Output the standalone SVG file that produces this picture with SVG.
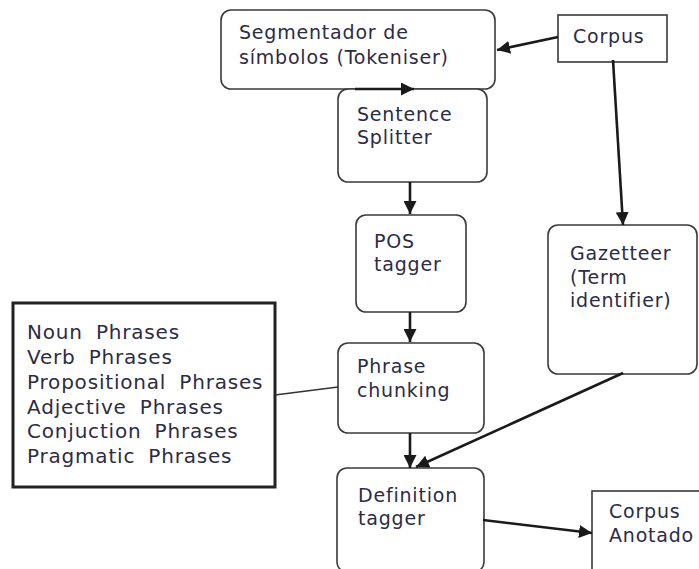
<svg xmlns="http://www.w3.org/2000/svg" width="699" height="569" viewBox="0 0 699 569">
<style>
.box{fill:#fff;stroke:#3a3a3a;stroke-width:1.6}
.t{font-family:"DejaVu Sans",Verdana,sans-serif;font-size:19px;letter-spacing:0.8px;fill:#2c2c44}
.lt{font-family:"DejaVu Sans",Verdana,sans-serif;font-size:20px;letter-spacing:0.8px;word-spacing:6px;fill:#2c2c44}
.c{stroke:#1a1a1a;stroke-width:2.6;fill:none}
.thin{stroke:#333;stroke-width:1.3;fill:none}
</style>
<defs>
<marker id="ah" viewBox="0 0 10 10" refX="10" refY="5" markerWidth="5" markerHeight="5" orient="auto" markerUnits="strokeWidth">
<path d="M0,0 L10,5 L0,10 z" fill="#1a1a1a"/>
</marker>
</defs>
<rect width="699" height="569" fill="#fff"/>
<g id="tokeniser">
<rect class="box" x="221" y="10" width="274" height="79" rx="10"/>
<text class="t" x="239" y="39">Segmentador de</text>
<text class="t" x="239" y="64">símbolos (Tokeniser)</text>
</g>
<g id="corpus">
<rect class="box" x="558" y="15" width="109" height="47"/>
<text class="t" x="573" y="43">Corpus</text>
</g>
<g id="splitter">
<rect class="box" x="338" y="89" width="149" height="93" rx="10"/>
<text class="t" x="357" y="121">Sentence</text>
<text class="t" x="357" y="144">Splitter</text>
</g>
<g id="pos">
<rect class="box" x="356" y="215" width="110" height="97" rx="10"/>
<text class="t" x="374" y="248">POS</text>
<text class="t" x="374" y="271">tagger</text>
</g>
<g id="gazetteer">
<rect class="box" x="548" y="225" width="149" height="149" rx="10"/>
<text class="t" x="570" y="260">Gazetteer</text>
<text class="t" x="570" y="284">(Term</text>
<text class="t" x="570" y="307">identifier)</text>
</g>
<g id="phrases">
<rect x="13" y="303" width="262" height="184" fill="#fff" stroke="#222" stroke-width="3"/>
<text class="lt" x="27" y="339">Noun Phrases</text>
<text class="lt" x="27" y="364">Verb Phrases</text>
<text class="lt" x="27" y="389">Propositional Phrases</text>
<text class="lt" x="27" y="414">Adjective Phrases</text>
<text class="lt" x="27" y="438">Conjuction Phrases</text>
<text class="lt" x="27" y="463">Pragmatic Phrases</text>
</g>
<g id="chunking">
<rect class="box" x="338" y="343" width="146" height="90" rx="10"/>
<text class="t" x="357" y="373">Phrase</text>
<text class="t" x="357" y="397">chunking</text>
</g>
<g id="definition">
<rect class="box" x="337" y="468" width="147" height="104" rx="10"/>
<text class="t" x="358" y="502">Definition</text>
<text class="t" x="358" y="525">tagger</text>
</g>
<g id="anotado">
<rect class="box" x="592" y="491" width="120" height="90"/>
<text class="t" x="609" y="518">Corpus</text>
<text class="t" x="609" y="542">Anotado</text>
</g>
<g id="connectors">
<line class="c" x1="558" y1="37" x2="497" y2="50" marker-end="url(#ah)"/>
<line class="c" x1="355" y1="89" x2="414" y2="89" marker-end="url(#ah)"/>
<line class="c" x1="613" y1="60" x2="623" y2="225" marker-end="url(#ah)"/>
<line class="c" x1="410" y1="182" x2="410" y2="214" marker-end="url(#ah)"/>
<line class="c" x1="410" y1="312" x2="410" y2="342" marker-end="url(#ah)"/>
<line class="thin" x1="338" y1="387" x2="275" y2="395"/>
<line class="c" x1="410" y1="433" x2="410" y2="468" marker-end="url(#ah)"/>
<line class="c" x1="623" y1="373" x2="416" y2="467" marker-end="url(#ah)"/>
<line class="c" x1="483" y1="520" x2="592" y2="533" marker-end="url(#ah)"/>
</g>
</svg>
